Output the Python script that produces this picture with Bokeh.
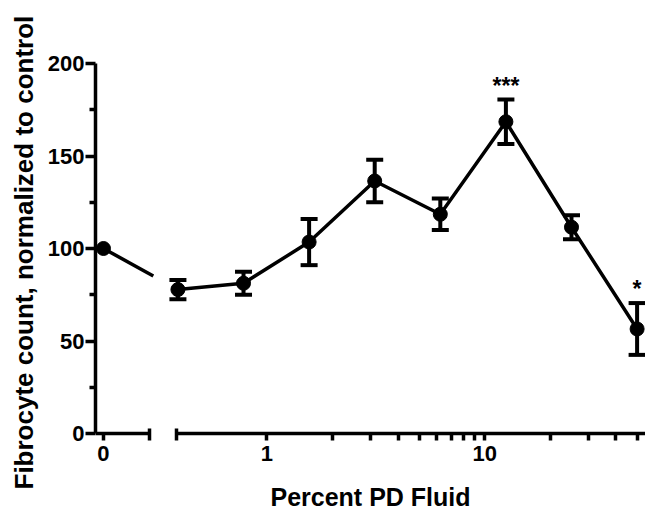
import math

from bokeh.plotting import figure
from bokeh.models import (Range1d, LinearScale, LinearAxis, FixedTicker,
                          CustomJSTickFormatter, Whisker, TeeHead,
                          ColumnDataSource, Title)
from bokeh.core.properties import value
from bokeh.embed import file_html
from bokeh.resources import INLINE

# ---- data -------------------------------------------------------------
# untreated control (0 % PD fluid), normalised to 100
control_percent = [0]
control_mean = [100]

# two-fold dilution series of PD fluid (percent)
pd_percent = [0.390625, 0.78125, 1.5625, 3.125, 6.25, 12.5, 25, 50]
count_mean = [77.8, 81.2, 103.5, 136.5, 118.5, 168.5, 111.5, 56.5]
count_sem = [5.2, 6.2, 12.5, 11.5, 8.5, 12.0, 6.5, 14.0]
significance = ["", "", "", "", "", "***", "", "*"]

y_ticks = [0, 50, 100, 150, 200]
y_minor_ticks = [25, 75, 125, 175]
zero_ticks = [0]
zero_tick_labels = ["0"]
log_ticks = [1, 2, 3, 4, 5, 6, 7, 8, 9, 10, 20, 30, 40, 50]
log_tick_labels = ["1", "", "", "", "", "", "", "", "", "10", "", "", "", ""]
x_title = "Percent PD Fluid"
y_title = "Fibrocyte count, normalized to control"

# ---- layout geometry (pixels) ----------------------------------------
W, H = 645, 508
TOP, LEFT = 63, 93
AXIS_Y = 433        # pixel row of the x axis (value 0)
FRAME_W = W - LEFT
SEG1_END = 147      # end of the "0" axis segment
GAP_START = 151     # where the connecting line disappears into the break
SEG2_START = 174    # start of the log axis segment
Y_TITLE_START = 19  # y title begins this far above the bottom edge

FONT = "Liberation Sans"
INK = "black"
LW = 3.5

# the frame reaches down to the bottom edge so that the x axes, which sit
# at value 0, keep their ticks and labels inside it
y_px = (AXIS_Y - TOP) / 200.0
y_start = -(H - AXIS_Y) / y_px

# linear scale used by the control segment
ctrl_start, ctrl_px = -0.2, 40.0
ctrl_end = ctrl_start + FRAME_W / ctrl_px
ctrl_cap = ctrl_start + (SEG1_END - LEFT) / ctrl_px
ctrl_gap = ctrl_start + (GAP_START - LEFT) / ctrl_px

# log scale of the dilution segment (1 -> x=265, 10 -> x=484)
decade_px = 218.7
x_at_one = 265
log_start = 10 ** ((LEFT - x_at_one) / decade_px)
log_end = 10 ** ((W - x_at_one) / decade_px)
log_cap = 10 ** ((SEG2_START - x_at_one) / decade_px)

# the control point is joined towards the first dilution; the join is cut
# where the axis break begins
first_px = x_at_one + math.log10(pd_percent[0]) * decade_px
first_in_ctrl = ctrl_start + (first_px - LEFT) / ctrl_px
frac = (ctrl_gap - control_percent[0]) / (first_in_ctrl - control_percent[0])
join_x = [control_percent[0], ctrl_gap]
join_y = [control_mean[0], control_mean[0] + frac * (count_mean[0] - control_mean[0])]

LABEL_JS = ("const i = tick_values.indexOf(tick); "
            "return i >= 0 ? tick_labels[i] : '';")


def style_axis(ax):
    ax.axis_line_width = LW
    ax.axis_line_color = INK
    ax.major_tick_line_width = LW
    ax.minor_tick_line_width = LW
    ax.major_tick_line_color = INK
    ax.minor_tick_line_color = INK
    ax.major_tick_in = 0
    ax.minor_tick_in = 0
    ax.major_label_text_font = FONT
    ax.major_label_text_font_size = "22px"
    ax.major_label_text_font_style = "bold"
    ax.major_label_text_color = INK
    ax.axis_label_text_font = FONT
    ax.axis_label_text_font_style = "bold"
    ax.axis_label_text_color = INK


p = figure(width=W, height=H, x_axis_type="log",
           x_range=Range1d(log_start, log_end),
           y_range=Range1d(y_start, 200),
           extra_x_ranges={"ctrl": Range1d(ctrl_start, ctrl_end)},
           extra_x_scales={"ctrl": LinearScale()},
           output_backend="svg", toolbar_location=None,
           min_border_left=LEFT, min_border_right=0,
           min_border_top=TOP, min_border_bottom=0)
p.outline_line_color = None
p.grid.visible = False
p.background_fill_color = "white"
p.border_fill_color = "white"

# ---- control point -----------------------------------------------------
p.line(join_x, join_y, x_range_name="ctrl", line_width=LW, line_color=INK)
p.scatter(control_percent, control_mean, x_range_name="ctrl",
          size=14, color=INK)

# ---- dilution series ---------------------------------------------------
src = ColumnDataSource(dict(
    x=pd_percent, y=count_mean,
    upper=[m + e for m, e in zip(count_mean, count_sem)],
    lower=[m - e for m, e in zip(count_mean, count_sem)],
))

p.line("x", "y", source=src, line_width=LW, line_color=INK)
p.add_layout(Whisker(
    base="x", upper="upper", lower="lower", source=src, dimension="height",
    line_width=4, line_color=INK,
    upper_head=TeeHead(size=17, line_width=4, line_color=INK),
    lower_head=TeeHead(size=17, line_width=4, line_color=INK)))
p.scatter("x", "y", source=src, size=14, color=INK)

stars = [(x, m + e, s) for x, m, e, s in
         zip(pd_percent, count_mean, count_sem, significance) if s]
p.text(x=[s[0] for s in stars], y=[s[1] for s in stars],
       text=[s[2] for s in stars], text_align="center",
       text_baseline="bottom", text_font=value(FONT),
       text_font_style="bold",
       text_font_size="23px", text_color=INK, y_offset=-1)

# ---- y axis ------------------------------------------------------------
ly = p.yaxis[0]
style_axis(ly)
ly.bounds = (0, 200)
ly.ticker = FixedTicker(ticks=y_ticks, minor_ticks=y_minor_ticks)
ly.major_tick_out = 10
ly.minor_tick_out = 6
ly.major_label_standoff = 1

# y title set beside the axis, running upwards from near the bottom edge
p.add_layout(Title(text=y_title, align="left", vertical_align="bottom",
                   offset=Y_TITLE_START, standoff=12,
                   text_font=FONT, text_font_size="26px",
                   text_font_style="bold", text_color=INK), "left")

# ---- broken x axis: log segment ---------------------------------------
rx = p.xaxis[0]
style_axis(rx)
rx.fixed_location = 0
rx.ticker = FixedTicker(ticks=log_ticks, minor_ticks=[log_cap])
rx.bounds = (log_cap, log_end)
rx.major_tick_out = 7
rx.minor_tick_in = 5
rx.minor_tick_out = 7
rx.major_label_standoff = 5
rx.formatter = CustomJSTickFormatter(
    args=dict(tick_values=log_ticks, tick_labels=log_tick_labels),
    code=LABEL_JS)

# ---- broken x axis: control segment, on the same baseline -------------
lx = LinearAxis(x_range_name="ctrl", fixed_location=0)
style_axis(lx)
lx.ticker = FixedTicker(ticks=zero_ticks, minor_ticks=[ctrl_cap])
lx.bounds = (ctrl_start, ctrl_cap)
lx.major_tick_out = 7
lx.minor_tick_in = 5
lx.minor_tick_out = 7
lx.major_label_standoff = 5
lx.formatter = CustomJSTickFormatter(
    args=dict(tick_values=zero_ticks, tick_labels=zero_tick_labels),
    code=LABEL_JS)
p.add_layout(lx, "below")

# ---- shared x title, centred under the whole broken axis --------------
tx = LinearAxis(x_range_name="ctrl", fixed_location=0)
style_axis(tx)
tx.axis_line_color = None
tx.major_tick_line_color = None
tx.minor_tick_line_color = None
tx.major_tick_out = 0
tx.minor_tick_out = 0
tx.ticker = FixedTicker(ticks=[])
tx.major_label_text_font_size = "0px"
tx.axis_label = x_title
tx.axis_label_text_font_size = "25px"
tx.axis_label_standoff = 49
p.add_layout(tx, "below")

open("out.html", "w").write(file_html(p, INLINE))
